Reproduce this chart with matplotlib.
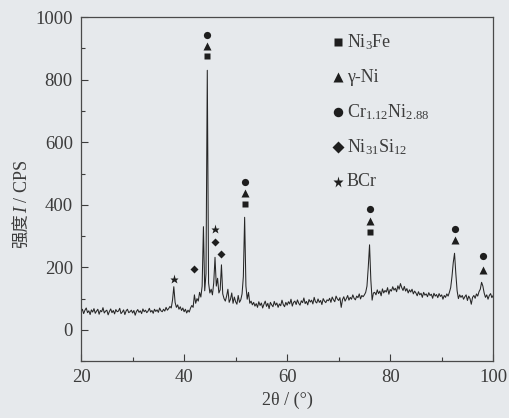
import numpy as np
import matplotlib

matplotlib.use("Agg")
import matplotlib.pyplot as plt
from matplotlib.ticker import MultipleLocator

plt.rcParams["font.family"] = ["Liberation Serif", "Noto Sans CJK SC"]
plt.rcParams["mathtext.fontset"] = "custom"
plt.rcParams["mathtext.rm"] = "Liberation Serif"
plt.rcParams["mathtext.it"] = "Liberation Serif:italic"

# 2θ 网格：20°~100°，步长 0.25°
two_theta = np.linspace(20, 100, 321)

# 强度
intensity = [
    # 20.00 - 29.75
    58, 66, 52, 63, 70, 55, 61, 49, 64, 57, 68, 53, 60, 66, 50, 62, 58, 71, 54, 60,
    63, 48, 59, 67, 55, 62, 51, 65, 58, 60, 69, 52, 57, 64, 49, 61, 66, 55, 58, 63,
    # 30.00 - 36.75
    54, 62, 47, 59, 65, 56, 61, 52, 67, 58, 63, 55, 60, 69, 57, 62, 53, 66, 59, 64,
    56, 70, 61, 58, 66, 60, 72, 63,
    # 37.00 - 39.75
    68, 75, 70, 95, 138, 88, 72, 80, 66, 74, 62, 70,
    # 40.00 - 41.75
    58, 66, 54, 63, 57, 70, 78, 72,
    # 42.00 - 43.75
    112, 85, 100, 92, 120, 105, 140, 330,
    # 44.00 - 45.75
    125, 180, 830, 150, 118, 130, 112, 150,
    # 46.00 - 47.75
    232, 140, 165, 118, 128, 208, 115, 100,
    # 48.00 - 49.75
    92, 108, 130, 88, 98, 118, 85, 105,
    # 50.00 - 51.75
    90, 82, 110, 88, 96, 115, 170, 360,
    # 52.00 - 53.75
    140, 98, 120, 85, 92, 80, 88, 76,
    # 54.00 - 59.75
    84, 72, 90, 78, 86, 70, 82, 92, 75, 85, 68, 88, 80, 74, 91, 79, 86, 72, 83, 77,
    95, 81, 74, 88,
    # 60.00 - 67.75
    79, 90, 83, 98, 76, 88, 92, 81, 96, 85, 79, 93, 87, 102, 84, 91, 80, 97, 89, 95,
    83, 104, 90, 86, 99, 88, 94, 81, 100, 92, 87, 96,
    # 68.00 - 74.75
    93, 101, 88, 105, 96, 90, 108, 99, 94, 103, 72, 97, 106, 92, 100, 110, 95, 104, 98, 112,
    101, 96, 108, 103, 115, 99, 110, 106,
    # 75.00 - 76.75
    112, 120, 140, 200, 272, 160, 95, 118,
    # 77.00 - 84.75
    120, 112, 128, 116, 124, 109, 131, 118, 126, 121, 135, 114, 129, 124, 138, 127, 133, 122, 141, 130,
    148, 135, 126, 139, 124, 132, 118, 128, 121, 130, 115, 124,
    # 85.00 - 91.75
    118, 109, 122, 112, 117, 104, 120, 111, 115, 106, 119, 110, 114, 101, 117, 108, 113, 103, 116, 107,
    112, 98, 110, 104, 115, 108, 120, 135,
    # 92.00 - 93.75
    170, 215, 245, 180, 125, 100, 112, 104,
    # 94.00 - 97.25
    110, 98, 106, 112, 94, 108, 100, 82, 104, 110, 101, 115, 108, 122,
    # 97.50 - 98.25
    130, 152, 140, 118,
    # 98.50 - 100.00
    104, 112, 98, 110, 116, 103, 110,
]

# 物相标记位置
ni3fe_x = [44.5, 51.75, 76.0]
ni3fe_y = [875, 402, 312]
gamma_ni_x = [44.5, 51.75, 76.0, 92.5, 98.0]
gamma_ni_y = [907, 437, 348, 287, 192]
crni_x = [44.5, 51.75, 76.0, 92.5, 98.0]
crni_y = [942, 472, 385, 323, 236]
ni31si12_x = [42.0, 46.0, 47.25]
ni31si12_y = [196, 282, 242]
bcr_x = [38.0, 46.0]
bcr_y = [162, 322]

phase_labels = [
    r"Ni$_3$Fe",
    "γ-Ni",
    r"Cr$_{1.12}$Ni$_{2.88}$",
    r"Ni$_{31}$Si$_{12}$",
    "BCr",
]

bg = "#e6e9ec"
ink = "#262626"
text_c = "#3c3c3c"

fig = plt.figure(figsize=(5.10, 4.18), dpi=100, facecolor=bg)
ax = fig.add_axes([0.159, 0.136, 0.808, 0.823], facecolor=bg)

ax.plot(two_theta, intensity, color=ink, lw=0.75)

marker_kw = dict(ls="none", color="#1e1e1e", mec="none")
phases = [
    (ni3fe_x, ni3fe_y, "s", 4.6),
    (gamma_ni_x, gamma_ni_y, "^", 5.2),
    (crni_x, crni_y, "o", 5.2),
    (ni31si12_x, ni31si12_y, "D", 4.3),
    (bcr_x, bcr_y, "*", 6.5),
]
for xs, ys, m, ms in phases:
    ax.plot(xs, ys, marker=m, ms=ms, **marker_kw)

# 图例（手工排列）
for i, ((_, _, m, ms), label) in enumerate(zip(phases, phase_labels)):
    yy = 0.927 - i * 0.1015
    ax.plot([0.623], [yy], marker=m, ms=ms + 1.6, transform=ax.transAxes, **marker_kw)
    ax.text(0.645, yy, label, transform=ax.transAxes, fontsize=13,
            color=text_c, va="center", ha="left")

ax.set_xlim(20, 100)
ax.set_ylim(-100, 1000)
ax.xaxis.set_major_locator(MultipleLocator(20))
ax.xaxis.set_minor_locator(MultipleLocator(10))
ax.yaxis.set_major_locator(MultipleLocator(200))
ax.yaxis.set_minor_locator(MultipleLocator(100))
ax.tick_params(which="both", direction="in", colors=text_c, labelsize=13.5)
ax.tick_params(which="major", length=5, width=0.8, pad=6)
ax.tick_params(which="minor", length=3, width=0.8)
for s in ax.spines.values():
    s.set_color("#4a4a4a")
    s.set_linewidth(0.9)

ax.set_xlabel("2θ / (°)", fontsize=13, color=text_c, labelpad=4)

# 纵轴标题：中文部分 + 斜体 I
ax.text(-0.143, 0.43, "强度", transform=ax.transAxes, rotation=90,
        ha="center", va="top", fontsize=12.5, color=text_c,
        family=["Noto Sans CJK SC"])
ax.text(-0.143, 0.43, r"$I$ / CPS", transform=ax.transAxes, rotation=90,
        ha="center", va="bottom", fontsize=13, color=text_c)

fig.savefig("out.png", dpi=100, facecolor=bg)
